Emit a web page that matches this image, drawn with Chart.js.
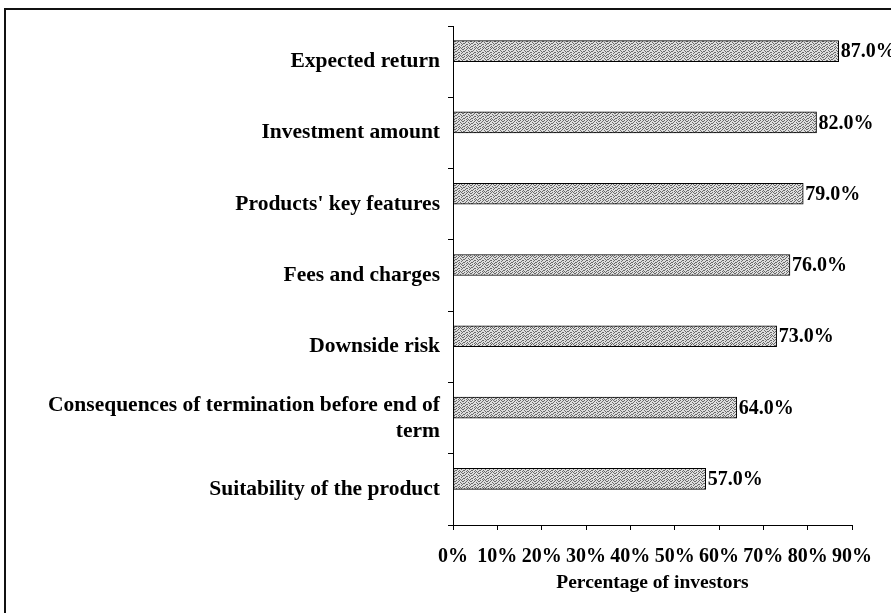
<!DOCTYPE html>
<html>
<head>
<meta charset="utf-8">
<script src="https://cdn.jsdelivr.net/npm/chart.js@4.4.1/dist/chart.umd.min.js"></script>
<style>
  html, body { margin: 0; padding: 0; background: #fff; overflow: hidden; }
  #wrap { position: relative; width: 891px; height: 613px; overflow: hidden; }
  #frame { position: absolute; left: 4px; top: 8px; width: 1000px; height: 1000px;
           border-left: 2px solid #111; border-top: 2px solid #111; }
  #box { position: absolute; left: 0; top: 0; width: 891px; height: 613px; }
</style>
</head>
<body>
<div id="wrap">
  <div id="frame"></div>
  <div id="box"><canvas id="chart"></canvas></div>
</div>
<script>
const categories = [
  'Expected return',
  'Investment amount',
  "Products' key features",
  'Fees and charges',
  'Downside risk',
  ['Consequences of termination before end of', 'term'],
  'Suitability of the product'
];
const values = [87, 82, 79, 76, 73, 64, 57];
const xTicks = ['0%', '10%', '20%', '30%', '40%', '50%', '60%', '70%', '80%', '90%'];
const axisTitle = 'Percentage of investors';

const FONT = "'Liberation Serif', 'Times New Roman', serif";

// speckled grey fill like the printed bars
function makePattern() {
  const dots = [
    '10010100',
    '00100011',
    '01001000',
    '10000101',
    '00110010',
    '01000100',
    '10010001',
    '00101010'
  ];
  const c = document.createElement('canvas');
  c.width = 8; c.height = 8;
  const g = c.getContext('2d');
  g.fillStyle = '#dedede';
  g.fillRect(0, 0, 8, 8);
  g.fillStyle = '#6a6a6a';
  dots.forEach((row, y) => {
    [...row].forEach((d, x) => { if (d === '1') g.fillRect(x, y, 1, 1); });
  });
  return g.createPattern(c, 'repeat');
}

const valueLabels = {
  id: 'valueLabels',
  afterDatasetsDraw(chart) {
    const ctx = chart.ctx;
    const meta = chart.getDatasetMeta(0);
    ctx.save();
    ctx.font = 'bold 20px ' + FONT;
    ctx.fillStyle = '#000';
    ctx.textAlign = 'left';
    ctx.textBaseline = 'middle';
    meta.data.forEach((bar, i) => {
      ctx.fillText(values[i].toFixed(1) + '%', bar.x + 2, bar.y + 1);
    });
    ctx.restore();
  }
};

new Chart(document.getElementById('chart'), {
  type: 'bar',
  data: {
    labels: categories,
    datasets: [
      {
        data: values,
        backgroundColor: makePattern(),
        borderColor: '#000',
        borderWidth: 1,
        borderSkipped: false
      },
      {
        // empty second series keeps the bars in the upper half of each band
        data: categories.map(() => null)
      }
    ]
  },
  options: {
    indexAxis: 'y',
    responsive: true,
    maintainAspectRatio: false,
    animation: false,
    datasets: { bar: { barThickness: 21 } },
    layout: { padding: { top: 26, right: 39, bottom: 0, left: 0 } },
    plugins: {
      legend: { display: false },
      tooltip: { enabled: false }
    },
    scales: {
      x: {
        min: 0,
        max: 90,
        ticks: {
          stepSize: 10,
          callback: (v, i) => xTicks[i],
          font: { family: FONT, size: 20, weight: 'bold' },
          color: '#000',
          padding: 15,
          maxRotation: 0
        },
        grid: { drawOnChartArea: false, color: '#000', tickLength: 5 },
        border: { color: '#000', width: 1 },
        title: {
          display: true,
          text: axisTitle,
          font: { family: FONT, size: 19.5, weight: 'bold' },
          color: '#000',
          padding: { top: 4, bottom: 18 }
        },
        afterFit: s => { s.height = 88; }
      },
      y: {
        ticks: {
          font: { family: FONT, size: 21.5, weight: 'bold' },
          color: '#000',
          padding: 8
        },
        grid: { drawOnChartArea: false, color: '#000', tickLength: 5, offset: true },
        border: { color: '#000', width: 1 },
        afterFit: s => { s.width = 453; }
      }
    }
  },
  plugins: [valueLabels]
});
</script>
</body>
</html>
